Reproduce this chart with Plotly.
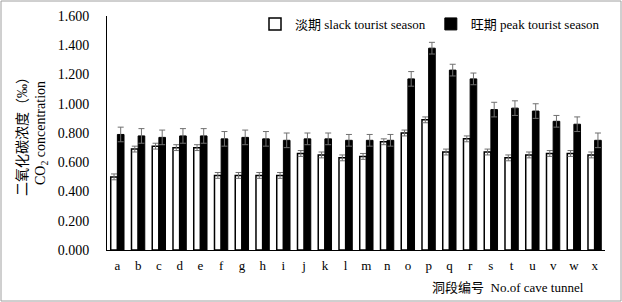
import plotly.graph_objects as go

categories = list("abcdefghijklmnopqrstuvwx")
slack = [0.50, 0.69, 0.71, 0.70, 0.70, 0.51, 0.51, 0.51, 0.51, 0.66, 0.65, 0.63,
         0.64, 0.74, 0.80, 0.89, 0.67, 0.76, 0.67, 0.63, 0.65, 0.66, 0.66, 0.65]
slack_err = [0.02, 0.02, 0.02, 0.02, 0.02, 0.02, 0.02, 0.02, 0.02, 0.02, 0.02, 0.02,
             0.02, 0.02, 0.02, 0.02, 0.02, 0.02, 0.02, 0.02, 0.02, 0.02, 0.02, 0.02]
peak = [0.79, 0.78, 0.77, 0.78, 0.78, 0.76, 0.77, 0.76, 0.75, 0.76, 0.76, 0.75,
        0.75, 0.75, 1.17, 1.38, 1.23, 1.17, 0.96, 0.97, 0.95, 0.88, 0.86, 0.75]
peak_err = [0.05, 0.05, 0.05, 0.05, 0.05, 0.05, 0.05, 0.05, 0.05, 0.04, 0.04, 0.04,
            0.04, 0.04, 0.05, 0.04, 0.04, 0.04, 0.05, 0.05, 0.05, 0.04, 0.05, 0.05]
yticks = [0, 0.2, 0.4, 0.6, 0.8, 1.0, 1.2, 1.4, 1.6]

FONT = "Liberation Serif, Times New Roman, Noto Sans CJK SC, serif"

W, H = 622, 302
ML, MR, MT, MB = 107, 17, 16, 52

fig = go.Figure()
fig.add_trace(go.Bar(
    x=categories, y=slack, name="淡期 slack tourist season",
    marker=dict(color="white", line=dict(color="black", width=1.5)),
    error_y=dict(type="data", array=slack_err, color="#707070", thickness=1, width=3),
))
fig.add_trace(go.Bar(
    x=categories, y=peak, name="旺期 peak tourist season",
    marker=dict(color="black", line=dict(color="black", width=1)),
    error_y=dict(type="data", array=peak_err, color="#707070", thickness=1, width=3),
))

pw = W - ML - MR
ph = H - MT - MB
x0 = (1 - ML) / pw
x1 = (W - 1 - ML) / pw
y0 = -(H - 1 - MT - ph) / ph
y1 = 1 + (MT - 1) / ph

fig.update_layout(
    width=W, height=H,
    margin=dict(l=ML, r=MR, t=MT, b=MB, autoexpand=False),
    paper_bgcolor="white", plot_bgcolor="white",
    barmode="group", bargap=0.36, bargroupgap=0.0,
    font=dict(family=FONT, size=13, color="black"),
    showlegend=True,
    legend=dict(orientation="h", x=1.0, xanchor="right", y=1.03, yanchor="top",
                font=dict(family=FONT, size=13, color="black"), bgcolor="rgba(0,0,0,0)"),
    xaxis=dict(showline=True, linecolor="black", linewidth=1, ticks="",
               tickfont=dict(family=FONT, size=13, color="black"), showgrid=False,
               automargin=False, ticklabelstandoff=3),
    yaxis=dict(range=[0, 1.6], tickvals=yticks,
               ticktext=[f"{v:.3f}" for v in yticks],
               showline=True, linecolor="black", linewidth=1, ticks="",
               showgrid=False, zeroline=False, automargin=False,
               ticklabelstandoff=14,
               tickfont=dict(family=FONT, size=14, color="black"),
               title=dict(text="二氧化碳浓度（‰）<br>CO<sub>2</sub> concentration",
                          font=dict(family=FONT, size=14, color="black"), standoff=8)),
    shapes=[dict(type="rect", xref="paper", yref="paper", x0=x0, x1=x1, y0=y0, y1=y1,
                 line=dict(color="#a0a0a0", width=1), fillcolor="rgba(0,0,0,0)", layer="below")],
)
fig.add_annotation(text="洞段编号  No.of cave tunnel", xref="paper", yref="paper",
                   x=0.962, xanchor="right", y=-0.12, yanchor="top", showarrow=False,
                   font=dict(family=FONT, size=13, color="black"))

fig.write_html("out.html", config={"displayModeBar": False},
               post_script="document.body.style.margin='0';")
